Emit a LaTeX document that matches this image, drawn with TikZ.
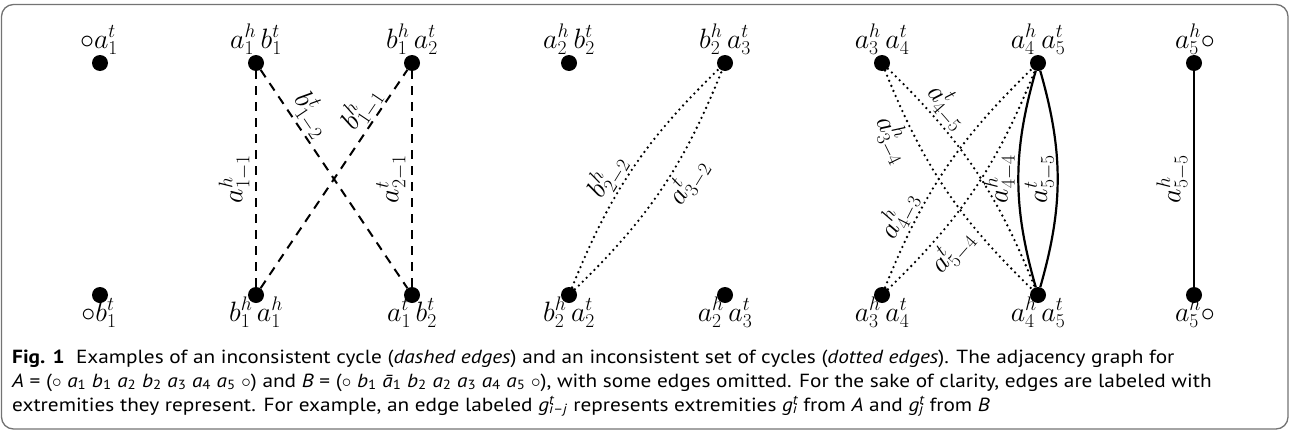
\RequirePackage{fix-cm}
\documentclass[tikz,border=0pt]{standalone}
\usepackage{fontspec}
\newfontfamily\capfont[FakeStretch=1.12]{PT Sans}
\newcommand{\ci}[2]{\textit{#1}\textsubscript{#2}}
\newcommand{\gx}[1]{\textit{g}\rlap{\textsuperscript{\textit{t}}}\textsubscript{#1}}
\tikzset{
  dot/.style={circle,fill=black,inner sep=0pt,minimum size=16pt},
  vlbl/.style={font=\fontsize{28}{30}\selectfont,inner sep=0pt,anchor=base},
  elbl/.style={font=\fontsize{28}{30}\selectfont,inner sep=0pt,sloped,allow upside down},
  capline/.style={anchor=base west,inner sep=0pt,font=\capfont\fontsize{19}{24}\selectfont},
  dashe/.style={line width=2pt,dash pattern=on 9pt off 7pt},
  dote/.style={line width=2.6pt,dash pattern=on 0pt off 5.5pt,line cap=round},
  solide/.style={line width=2.2pt},
}
\begin{document}
\begin{tikzpicture}[x=1pt,y=1pt]
\useasboundingbox (0,0) rectangle (1290,-431);
\draw[black!55,line width=1.3pt,rounded corners=12pt] (1.5,-4.5) rectangle (1288,-429);
% dots
\node[dot] (T1) at (100,-63) {};
\node[dot] (B1) at (100,-295) {};
\node[dot] (T2) at (256,-63) {};
\node[dot] (B2) at (256,-295) {};
\node[dot] (T3) at (412,-63) {};
\node[dot] (B3) at (412,-295) {};
\node[dot] (T4) at (569,-63) {};
\node[dot] (B4) at (569,-295) {};
\node[dot] (T5) at (725,-63) {};
\node[dot] (B5) at (725,-295) {};
\node[dot] (T6) at (882,-63) {};
\node[dot] (B6) at (882,-295) {};
\node[dot] (T7) at (1038,-63) {};
\node[dot] (B7) at (1038,-295) {};
\node[dot] (T8) at (1194,-63) {};
\node[dot] (B8) at (1194,-295) {};
% vertex labels
\node[vlbl] (lT1) at (99,-48) {$\circ a_1^t$};
\node[vlbl] (lT2) at (256,-48) {$a_1^h\,b_1^t$};
\node[vlbl] (lT3) at (412,-48) {$b_1^h\,a_2^t$};
\node[vlbl] (lT4) at (569,-48) {$a_2^h\,b_2^t$};
\node[vlbl] (lT5) at (725,-48) {$b_2^h\,a_3^t$};
\node[vlbl] (lT6) at (882,-48) {$a_3^h\,a_4^t$};
\node[vlbl] (lT7) at (1038,-48) {$a_4^h\,a_5^t$};
\node[vlbl] (lT8) at (1195,-48) {$a_5^h\circ$};
\node[vlbl] (lB1) at (99,-321) {$\circ b_1^t$};
\node[vlbl] (lB2) at (256,-321) {$b_1^h\,a_1^h$};
\node[vlbl] (lB3) at (412,-321) {$a_1^t\,b_2^t$};
\node[vlbl] (lB4) at (569,-321) {$b_2^h\,a_2^t$};
\node[vlbl] (lB5) at (725,-321) {$a_2^h\,a_3^t$};
\node[vlbl] (lB6) at (882,-321) {$a_3^h\,a_4^t$};
\node[vlbl] (lB7) at (1038,-321) {$a_4^h\,a_5^t$};
\node[vlbl] (lB8) at (1195,-321) {$a_5^h\circ$};
% dashed cycle
\draw[dashe] (B2) -- node[elbl,above=4pt] {$a^h_{1-1}$} (T2);
\draw[dashe] (B3) -- node[elbl,above=4pt] {$a^t_{2-1}$} (T3);
\draw[dashe] (T2) -- node[elbl,above=1pt,pos=0.25] {$b^t_{1-2}$} (B3);
\draw[dashe] (B2) -- node[elbl,above=0pt,pos=0.78] {$b^h_{1-1}$} (T3);
% dotted set
\draw[dote] (B4) to[bend left=12] node[elbl,above,pos=0.42] {$b^h_{2-2}$} (T5);
\draw[dote] (B4) to[bend right=12] node[elbl,below=2pt,pos=0.58] {$a^t_{3-2}$} (T5);
\draw[dote] (T6) to[bend left=12] node[elbl,above,pos=0.24] {$a^t_{4-5}$} (B7);
\draw[dote] (T6) to[bend right=12] node[elbl,below=3pt,pos=0.23] {$a^h_{3-4}$} (B7);
\draw[dote] (B6) to[bend left=12] node[elbl,above,pos=0.25] {$a^h_{4-3}$} (T7);
\draw[dote] (B6) to[bend right=12] node[elbl,below=4pt,pos=0.25] {$a^t_{5-4}$} (T7);
% solid
\draw[solide] (B7) to[bend left=16] node[elbl,above=1pt] {$a^h_{4-4}$} (T7);
\draw[solide] (B7) to[bend right=16] node[elbl,above=1pt] {$a^t_{5-5}$} (T7);
\draw[solide] (B8) -- node[elbl,above=4pt] {$a^h_{5-5}$} (T8);
% caption
\node[capline] (cap1) at (12,-363) {\textbf{Fig. 1}\hspace{0.6em}Examples of an inconsistent cycle (\textit{dashed edges}) and an inconsistent set of cycles (\textit{dotted edges}). The adjacency graph for};
\node[capline] (cap2) at (12,-387) {\textit{A} = ($\circ$\ \ci{a}{1}\ \ci{b}{1}\ \ci{a}{2}\ \ci{b}{2}\ \ci{a}{3}\ \ci{a}{4}\ \ci{a}{5}\ $\circ$) and \textit{B} = ($\circ$\ \ci{b}{1}\ \ci{\=a}{1}\ \ci{b}{2}\ \ci{a}{2}\ \ci{a}{3}\ \ci{a}{4}\ \ci{a}{5}\ $\circ$), with some edges omitted. For the sake of clarity, edges are labeled with};
\node[capline] (cap3) at (12,-411) {extremities they represent. For example, an edge labeled \gx{\textit{i}–\textit{j}} represents extremities \gx{\textit{i}} from \textit{A} and \gx{\textit{j}} from \textit{B}};
\end{tikzpicture}
\end{document}
